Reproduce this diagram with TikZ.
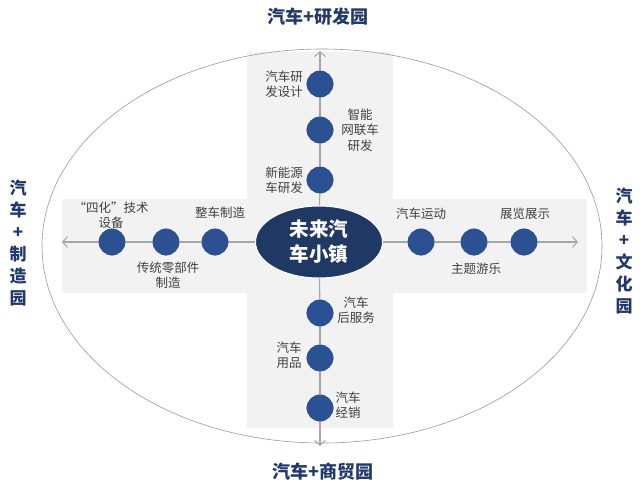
\documentclass[tikz,border=0pt]{standalone}
\usepackage{fontspec}
\setmainfont{Noto Sans CJK SC}
\usetikzlibrary{arrows.meta,shapes.geometric}
\definecolor{navy}{HTML}{1F3864}
\definecolor{dotblue}{HTML}{2C5193}
\definecolor{bandgray}{HTML}{F2F2F2}
\definecolor{axisgray}{HTML}{A6A6A6}
\definecolor{labelgray}{HTML}{404040}
\definecolor{titleblue}{HTML}{22396A}
\tikzset{
  band/.style={fill=bandgray},
  outerring/.style={draw=gray!80, line width=0.6pt},
  axisline/.style={draw=axisgray, line width=1.1pt},
  axisarrow/.style={axisline, -{Straight Barb[length=5pt,width=11pt,line width=1pt]}},
  hubnode/.style={ellipse, fill=navy, draw=white, line width=1pt, minimum width=127pt, minimum height=72pt, inner sep=0pt,
     text=white, font=\fontsize{19.5}{25}\selectfont\bfseries, align=center},
  dotnode/.style={circle, fill=dotblue, draw=white, line width=0.8pt, minimum size=28pt, inner sep=0pt},
  lbl/.style={text=labelgray, font=\fontsize{12.5}{15.5}\selectfont, align=center, inner sep=0pt},
  ttl/.style={text=titleblue, font=\fontsize{18}{22}\selectfont\bfseries, align=center, inner sep=0pt},
  vttl/.style={text=titleblue, font=\fontsize{17}{22}\selectfont\bfseries, align=center, inner sep=0pt}
}
\begin{document}
\begin{tikzpicture}[x=1pt,y=-1pt]
\useasboundingbox (0,0) rectangle (640,488);
% background cross bands
\fill[band] (247,52) rectangle (393,428);
\fill[band] (62,199) rectangle (587,293);
% outer ring
\draw[outerring] (322,246) ellipse [x radius=280pt, y radius=197pt];
% arrow ends
\coordinate (L) at (62,242);
\coordinate (R) at (578,242);
\coordinate (T) at (320,51);
\coordinate (B) at (320,446);
% nodes
\node[dotnode] (t1) at (320,84) {};
\node[dotnode] (t2) at (320,130) {};
\node[dotnode] (t3) at (320,180) {};
\node[dotnode] (b1) at (320,313) {};
\node[dotnode] (b2) at (320,358) {};
\node[dotnode] (b3) at (320,408) {};
\node[dotnode] (l1) at (112,242) {};
\node[dotnode] (l2) at (166,242) {};
\node[dotnode] (l3) at (215,242) {};
\node[dotnode] (r1) at (421,242) {};
\node[dotnode] (r2) at (474,242) {};
\node[dotnode] (r3) at (524,242) {};
\node[hubnode] (hub) at (319,242) {未来汽\\车小镇};
% connectors
\draw[axisline] (hub) -- (t3);
\draw[axisline] (t3) -- (t2);
\draw[axisline] (t2) -- (t1);
\draw[axisarrow] (t1) -- (T);
\draw[axisline] (hub) -- (b1);
\draw[axisline] (b1) -- (b2);
\draw[axisline] (b2) -- (b3);
\draw[axisarrow] (b3) -- (B);
\draw[axisline] (hub) -- (l3);
\draw[axisline] (l3) -- (l2);
\draw[axisline] (l2) -- (l1);
\draw[axisarrow] (l1) -- (L);
\draw[axisline] (hub) -- (r1);
\draw[axisline] (r1) -- (r2);
\draw[axisline] (r2) -- (r3);
\draw[axisarrow] (r3) -- (R);
% labels
\node[lbl, anchor=east] (lt1) at (303,84) {汽车研\\发设计};
\node[lbl] (lt2) at (360,130) {智能\\网联车\\研发};
\node[lbl, anchor=east] (lt3) at (303,180) {新能源\\车研发};
\node[lbl] (ll1) at (111,215) {“四化”技术\\设备};
\node[lbl] (ll3) at (220,213) {整车制造};
\node[lbl] (ll2) at (168,275) {传统零部件\\制造};
\node[lbl] (lr1) at (421,214) {汽车运动};
\node[lbl] (lr3) at (525,214) {展览展示};
\node[lbl] (lr2) at (476,269) {主题游乐};
\node[lbl] (lb1) at (356,310) {汽车\\后服务};
\node[lbl] (lb2) at (289,355) {汽车\\用品};
\node[lbl] (lb3) at (348,405) {汽车\\经销};
% titles
\node[ttl] (ttop) at (318,17) {汽车+研发园};
\node[ttl] (tbot) at (323,472) {汽车+商贸园};
\node[vttl] (tleft) at (18,243) {汽\\车\\+\\制\\造\\园};
\node[vttl] (tright) at (624,251) {汽\\车\\+\\文\\化\\园};
\end{tikzpicture}
\end{document}
